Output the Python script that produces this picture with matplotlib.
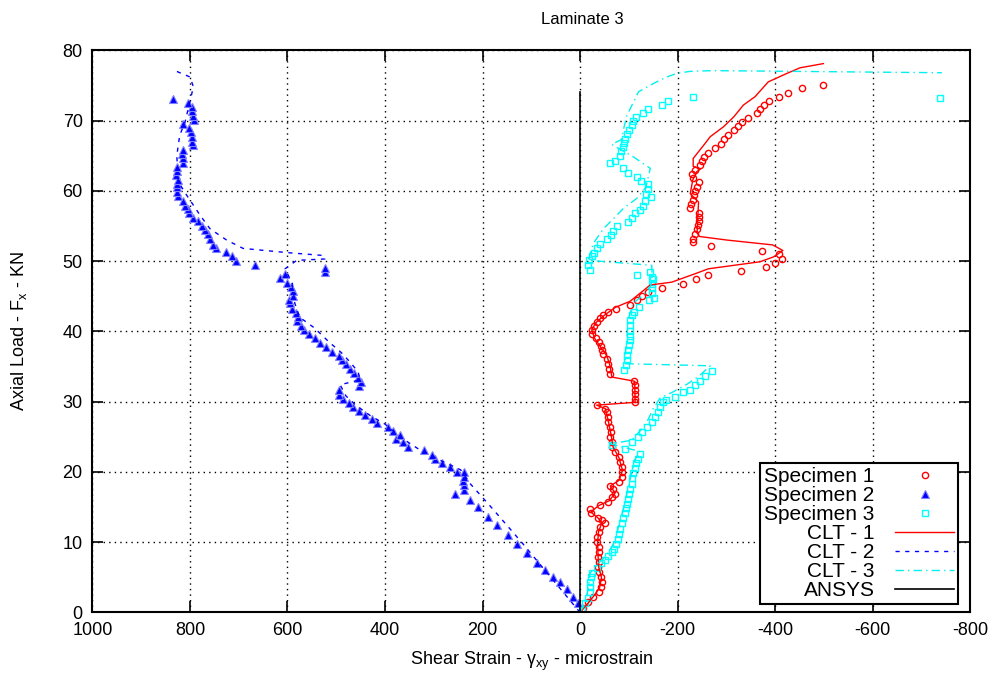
import matplotlib
matplotlib.use("Agg")
import matplotlib.pyplot as plt

plt.rcParams['font.family'] = ['Liberation Sans', 'DejaVu Sans']
plt.rcParams['mathtext.fontset'] = 'custom'
plt.rcParams['mathtext.rm'] = 'Liberation Sans'
plt.rcParams['axes.unicode_minus'] = False

# Specimen 1 (red circles): shear strain, load
spec1_strain = [-7, -17, -27, -38, -43, -46, -43, -39, -36, -38, -36, -39, -38, -34, -34, -38, -41, -51, -44, -36,
                -23, -21, -41, -58, -65, -72, -68, -62, -79, -86, -87, -86, -82, -79, -72, -65, -65, -62, -64, -62,
                -58, -57, -55, -51, -34, -113, -113, -113, -112, -112, -110, -62, -60, -58, -55, -48, -44, -42, -38, -32,
                -25, -24, -29, -34, -41, -48, -58, -73, -103, -116, -127, -139, -168, -211, -237, -263, -330, -382, -400, -415,
                -408, -374, -269, -232, -232, -236, -239, -241, -243, -243, -243, -226, -228, -231, -234, -236, -239, -243, -231, -229,
                -236, -245, -250, -254, -262, -276, -289, -296, -304, -315, -323, -332, -344, -362, -369, -378, -388, -409, -426, -455,
                -499]
spec1_load = [0.6, 1.5, 2.2, 2.9, 3.6, 4.4, 5.1, 5.8, 6.5, 7.2, 7.9, 8.6, 9.3, 10.0, 10.8, 11.5, 12.2, 12.7, 13.1, 13.5,
              14.1, 14.7, 15.3, 15.7, 16.4, 16.9, 17.5, 18.0, 18.6, 19.3, 20.0, 20.7, 21.4, 22.1, 22.8, 23.6, 24.3, 25.0, 25.7, 26.4,
              27.1, 27.8, 28.5, 29.0, 29.5, 29.9, 30.4, 31.1, 31.7, 32.3, 32.9, 34.0, 34.7, 35.4, 36.1, 36.8, 37.4, 37.9, 38.5, 39.0,
              39.6, 40.2, 40.7, 41.3, 41.9, 42.3, 42.8, 43.2, 43.7, 44.4, 45.1, 45.6, 46.2, 46.8, 47.4, 48.0, 48.6, 49.2, 49.7, 50.3,
              51.0, 51.5, 52.1, 52.7, 53.2, 53.9, 54.5, 55.1, 55.7, 56.3, 56.9, 57.5, 58.1, 58.7, 59.4, 60.0, 60.5, 61.2, 61.8, 62.4,
              63.0, 63.6, 64.2, 64.8, 65.4, 66.1, 66.7, 67.3, 67.9, 68.6, 69.2, 69.8, 70.4, 71.0, 71.6, 72.2, 72.8, 73.4, 73.9, 74.6,
              75.1]

# Specimen 2 (blue triangles)
spec2_strain = [0, 3.5, 14, 27, 41, 55, 72, 89, 109, 130, 147, 171, 188, 209, 226, 256, 239, 239, 240, 239,
                239, 253, 267, 284, 297, 304, 321, 352, 364, 378, 369, 383, 393, 416, 426, 441, 453, 465, 474, 486,
                494, 494, 453, 449, 455, 464, 472, 481, 488, 494, 509, 522, 533, 544, 556, 566, 573, 580, 578, 582,
                591, 595, 596, 589, 589, 592, 600, 615, 606, 524, 524, 667, 706, 714, 727, 747, 752, 758, 762, 769,
                776, 783, 794, 801, 805, 810, 814, 824, 827, 827, 827, 824, 829, 827, 826, 814, 814, 817, 815, 793,
                796, 796, 798, 802, 814, 791, 793, 795, 796, 805, 835]
spec2_load = [0.0, 1.3, 2.2, 3.4, 4.4, 5.1, 6.0, 7.0, 8.4, 9.8, 11.0, 12.4, 13.6, 15.0, 16.0, 16.9, 17.4, 18.1, 18.7, 19.3,
              20.0, 20.0, 20.7, 21.3, 21.9, 22.4, 23.1, 23.6, 24.3, 24.7, 25.3, 25.8, 26.4, 27.0, 27.5, 28.1, 28.7, 29.2, 29.8, 30.4,
              31.0, 31.6, 32.2, 32.8, 33.4, 34.1, 34.7, 35.3, 35.9, 36.5, 37.1, 37.8, 38.4, 39.0, 39.6, 40.2, 40.8, 41.5, 42.0, 42.6,
              43.2, 44.0, 44.5, 45.1, 45.7, 46.3, 46.9, 47.6, 48.2, 48.5, 49.0, 49.4, 50.0, 50.7, 51.3, 51.9, 52.3, 53.1, 53.8, 54.4,
              55.0, 55.7, 56.2, 56.8, 57.4, 57.9, 58.5, 59.2, 59.8, 60.5, 61.0, 61.6, 62.2, 62.8, 63.4, 64.0, 64.6, 65.2, 65.8, 66.5,
              67.0, 67.7, 68.3, 68.9, 69.5, 70.1, 70.7, 71.3, 71.9, 72.5, 73.1]

# Specimen 3 (cyan squares)
spec3_strain = [-3, -10, -16, -21, -21, -21, -23, -24, -34, -43, -51, -58, -65, -70, -73, -77, -80, -82, -86, -89,
                -92, -94, -96, -98, -101, -103, -106, -107, -109, -113, -115, -118, -123, -92, -65, -106, -118, -127, -138, -147,
                -154, -159, -164, -171, -176, -195, -212, -226, -236, -245, -256, -270, -91, -94, -96, -96, -99, -101, -103, -103,
                -103, -103, -103, -106, -111, -120, -142, -152, -148, -148, -148, -150, -147, -116, -144, -21, -16, -18, -24, -29,
                -34, -41, -55, -63, -68, -75, -99, -106, -113, -122, -130, -133, -145, -135, -140, -140, -125, -116, -98, -88,
                -62, -72, -81, -83, -89, -90, -92, -96, -101, -106, -109, -114, -130, -140, -168, -180, -231, -738]
spec3_load = [0.3, 1.3, 2.0, 2.9, 3.6, 4.4, 5.1, 5.6, 6.3, 7.0, 7.5, 8.0, 8.6, 9.1, 9.8, 10.5, 11.2, 11.9, 12.7, 13.4,
              14.1, 14.8, 15.5, 16.2, 16.9, 17.6, 18.3, 19.1, 19.8, 20.5, 21.2, 21.9, 22.6, 23.2, 23.8, 24.2, 25.0, 25.7, 26.4, 27.1,
              27.8, 28.5, 29.2, 29.9, 30.3, 30.7, 31.3, 31.7, 32.3, 32.9, 33.6, 34.3, 34.5, 35.2, 35.9, 36.6, 37.3, 38.0, 38.7, 39.4,
              40.1, 40.9, 41.6, 42.3, 42.8, 43.5, 44.4, 44.7, 45.4, 46.1, 46.8, 47.4, 47.8, 48.0, 48.4, 48.8, 49.4, 50.1, 50.7, 51.2,
              51.8, 52.4, 53.1, 53.7, 54.3, 55.0, 55.5, 56.1, 56.8, 57.3, 57.9, 58.5, 59.1, 59.6, 60.3, 60.9, 61.4, 62.0, 62.6, 63.2,
              63.9, 64.3, 64.9, 65.6, 66.2, 66.8, 67.4, 68.1, 68.7, 69.3, 69.9, 70.5, 71.0, 71.7, 72.2, 72.8, 73.4, 73.2]

# CLT predictions
clt1_strain = [0, -15, -30, -40, -44, -38, -37, -36, -38, -45, -36, -22, -38, -60, -72, -62, -80, -87, -80, -68,
               -63, -58, -52, -34, -113, -112, -65, -62, -55, -42, -30, -24, -32, -50, -72, -103, -144, -188, -236, -263,
               -369, -397, -416, -395, -300, -245, -240, -243, -226, -231, -239, -247, -232, -232, -256, -267, -294, -315, -335, -359,
               -386, -424, -451, -499]
clt1_load = [0.0, 1.2, 2.5, 3.5, 5.0, 6.5, 8.0, 10.0, 11.5, 12.8, 13.5, 14.3, 15.2, 15.9, 17.0, 18.0, 18.8, 20.2, 22.0, 23.5,
             25.5, 27.2, 29.0, 29.5, 29.9, 32.9, 33.5, 35.0, 36.5, 37.8, 39.0, 40.2, 41.2, 42.3, 43.4, 44.3, 46.6, 47.0, 48.2, 48.9,
             49.9, 50.6, 51.5, 52.3, 53.0, 53.5, 54.0, 58.4, 59.6, 61.5, 62.7, 63.1, 63.5, 64.6, 66.7, 67.7, 69.1, 70.5, 72.2, 73.4,
             75.5, 76.7, 77.5, 78.1]

clt2_strain = [0, 60, 120, 180, 225, 245, 285, 330, 370, 400, 430, 460, 480, 492, 451, 455, 470, 490, 515, 545,
               575, 585, 590, 605, 581, 523, 527, 600, 691, 725, 759, 779, 807, 824, 827, 821, 810, 797, 793, 800,
               831]
clt2_load = [0.0, 5.0, 10.0, 14.8, 18.3, 20.3, 21.6, 23.2, 25.0, 26.8, 28.0, 29.5, 30.8, 32.4, 33.1, 34.2, 35.5, 37.0, 38.5, 40.5,
             42.0, 44.0, 46.8, 48.9, 50.1, 50.3, 50.8, 51.2, 51.8, 53.0, 54.6, 56.5, 59.4, 61.3, 65.0, 67.9, 69.8, 73.6, 74.8, 76.2,
             77.1]

clt3_strain = [0, -8, -14, -18, -20, -30, -45, -60, -70, -76, -82, -88, -93, -98, -103, -108, -113, -123, -62, -106,
               -125, -140, -150, -164, -191, -220, -245, -267, -92, -93, -96, -98, -102, -109, -130, -145, -148, -147, -17, -27,
               -48, -75, -89, -116, -135, -144, -110, -65, -85, -90, -96, -120, -154, -178, -198, -226, -273, -742]
clt3_load = [0.0, 1.0, 2.5, 4.0, 5.5, 6.5, 7.5, 8.7, 10.0, 11.5, 13.0, 14.5, 16.0, 17.5, 19.0, 20.5, 21.8, 22.9, 24.0, 24.5,
             26.0, 27.5, 29.0, 30.5, 31.4, 32.5, 33.7, 35.1, 35.4, 37.0, 39.0, 41.0, 42.5, 44.0, 45.2, 46.5, 47.5, 49.4, 50.1, 52.5,
             54.6, 56.5, 57.5, 58.9, 60.5, 63.2, 64.8, 66.6, 67.3, 69.0, 70.7, 74.1, 75.4, 76.2, 76.7, 77.0, 77.1, 76.8]

ansys_strain = [0, 0]
ansys_load = [0, 74]

fig = plt.figure(figsize=(9.94, 6.79), dpi=100)
ax = fig.add_axes([0.093, 0.098, 0.883, 0.828])

ax.plot(spec1_strain, spec1_load, 'o', ls='none', ms=4.5, mfc='none', mec='#ff0000', mew=1, label='Specimen 1')
ax.plot(spec2_strain, spec2_load, '^', ls='none', ms=5.5, mfc='#0000ff', mec='#8080ff', mew=0.8, label='Specimen 2')
ax.plot(spec3_strain, spec3_load, 's', ls='none', ms=5, mfc='none', mec='#00ffff', mew=1, label='Specimen 3')
ax.plot(clt1_strain, clt1_load, '-', color='#ff0000', lw=1, label='CLT - 1')
ax.plot(clt2_strain, clt2_load, '--', color='#0000ff', lw=1, dashes=(3, 4), label='CLT - 2')
ax.plot(clt3_strain, clt3_load, '-.', color='#00f0f0', lw=1, dashes=(6, 3, 1, 3), label='CLT - 3')
ax.plot(ansys_strain, ansys_load, '-', color='black', lw=1.2, label='ANSYS')

ax.set_xlim(1000, -800)
ax.set_ylim(0, 80)
ax.set_xticks(range(1000, -801, -200))
ax.set_yticks(range(0, 81, 10))
ax.grid(True, color='black', linestyle=(0, (1, 3)), linewidth=1)
ax.set_axisbelow(True)
ax.tick_params(direction='in', length=8, width=1.2, top=True, right=True, labelsize=13, pad=7)
for s in ax.spines.values():
    s.set_linewidth(1.5)

ax.set_xlabel(r'Shear Strain - γ$_\mathregular{xy}$ - microstrain', fontsize=13, labelpad=8)
ax.set_ylabel(r'Axial Load - F$_\mathregular{x}$ - KN', fontsize=13)
ax.yaxis.set_label_coords(-0.072, 0.5)
fig.text(0.586, 0.972, 'Laminate 3', ha='center', va='center', fontsize=12)

leg = ax.legend(loc='lower right', bbox_to_anchor=(0.986, 0.015), markerfirst=False, fancybox=False,
                edgecolor='black', framealpha=1, fontsize=15, handlelength=2.8, handletextpad=1.0,
                labelspacing=0.0, borderpad=0.2, borderaxespad=0)
leg.get_frame().set_linewidth(1.5)

fig.savefig('out.png', dpi=100)
